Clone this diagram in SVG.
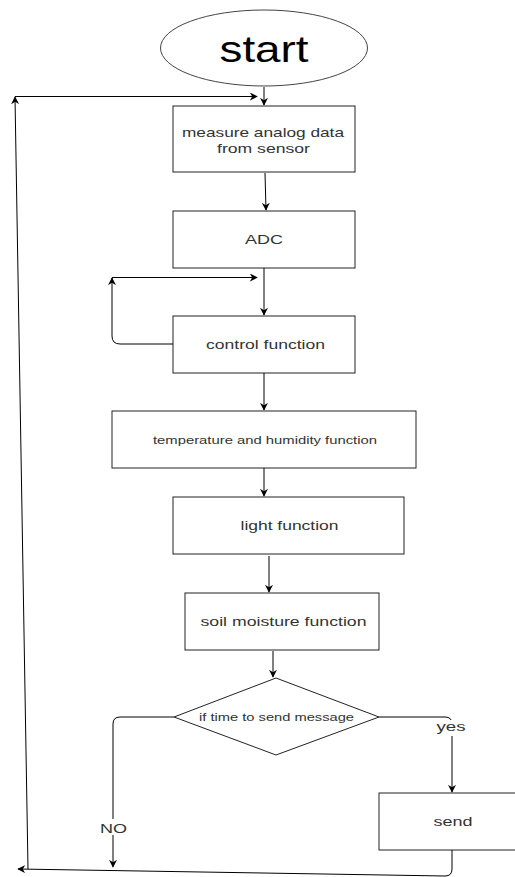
<svg xmlns="http://www.w3.org/2000/svg" width="515" height="877" viewBox="0 0 515 877">
<defs>
<marker id="ah" viewBox="0 0 10 10" refX="9" refY="5" markerWidth="8" markerHeight="8" markerUnits="userSpaceOnUse" orient="auto">
<path d="M0,0 L10,5 L0,10 L3,5 Z" fill="#000"/>
</marker>
<style>
.box{fill:#fff;stroke:#222;stroke-width:1}
.ln{fill:none;stroke:#000;stroke-width:1}
.t{font-family:"Liberation Sans",Arial,sans-serif;fill:#333;text-anchor:middle}
</style>
</defs>
<rect width="515" height="877" fill="#fff"/>
<g id="start">
<ellipse cx="264" cy="48" rx="103.5" ry="38" fill="#fff" stroke="#444" stroke-width="1"/>
<text class="t" x="264" y="62" font-size="36" style="fill:#000" textLength="89" lengthAdjust="spacingAndGlyphs">start</text>
</g>
<g id="measure">
<rect class="box" x="173" y="106" width="182" height="66"/>
<text class="t" x="263" y="136.5" font-size="13" textLength="162" lengthAdjust="spacingAndGlyphs">measure analog data</text>
<text class="t" x="263.5" y="153" font-size="13" textLength="93" lengthAdjust="spacingAndGlyphs">from sensor</text>
</g>
<g id="adc">
<rect class="box" x="173" y="211" width="182" height="57"/>
<text class="t" x="264" y="244" font-size="13" textLength="38" lengthAdjust="spacingAndGlyphs">ADC</text>
</g>
<g id="control">
<rect class="box" x="173" y="316" width="182" height="57"/>
<text class="t" x="265.5" y="349" font-size="13" textLength="119" lengthAdjust="spacingAndGlyphs">control function</text>
</g>
<g id="temp">
<rect class="box" x="112" y="411" width="304" height="57"/>
<text class="t" x="265" y="443.5" font-size="11.5" textLength="224" lengthAdjust="spacingAndGlyphs">temperature and humidity function</text>
</g>
<g id="light">
<rect class="box" x="173" y="497" width="231" height="57"/>
<text class="t" x="289.5" y="530" font-size="13" textLength="98" lengthAdjust="spacingAndGlyphs">light function</text>
</g>
<g id="soil">
<rect class="box" x="185" y="593" width="194" height="57"/>
<text class="t" x="283.5" y="626" font-size="13" textLength="166" lengthAdjust="spacingAndGlyphs">soil moisture function</text>
</g>
<g id="decision">
<polygon points="276,678 379,717 276,755 174,717" fill="#fff" stroke="#222" stroke-width="1"/>
<text class="t" x="276.5" y="721" font-size="11.5" textLength="155" lengthAdjust="spacingAndGlyphs">if time to send message</text>
</g>
<g id="send">
<rect class="box" x="379" y="793" width="140" height="57"/>
<text class="t" x="453" y="826" font-size="13" textLength="39" lengthAdjust="spacingAndGlyphs">send</text>
</g>
<g id="connectors">
<path class="ln" d="M264,87 L264,105" marker-end="url(#ah)"/>
<path class="ln" d="M265,173 L266,210" marker-end="url(#ah)"/>
<path class="ln" d="M264,268 L264,315" marker-end="url(#ah)"/>
<path class="ln" d="M173,344 L120,344 Q112,344 112,336 L112,278" marker-end="url(#ah)"/>
<path class="ln" d="M112,277.5 L257,277.5" marker-end="url(#ah)"/>
<path class="ln" d="M264,373 L264,410" marker-end="url(#ah)"/>
<path class="ln" d="M264,468 L264,496" marker-end="url(#ah)"/>
<path class="ln" d="M269,556 L269,592" marker-end="url(#ah)"/>
<path class="ln" d="M273,651 L273,677" marker-end="url(#ah)"/>
<path class="ln" d="M174,717 L120,717 Q113,717 113,724 L113,867" marker-end="url(#ah)"/>
<path class="ln" d="M379,717 L445,717 Q452,717 452,724 L452,792" marker-end="url(#ah)"/>
<path class="ln" d="M452,850 L452,869 Q452,876 445,876 L18,869" marker-end="url(#ah)"/>
<path class="ln" d="M28,869 L15,97" marker-end="url(#ah)"/>
<path class="ln" d="M15,96.5 L257,96.5" marker-end="url(#ah)"/>
<rect x="99" y="819" width="29" height="16" fill="#fff"/>
<text class="t" x="113.5" y="833" font-size="13" textLength="27" lengthAdjust="spacingAndGlyphs">NO</text>
<rect x="436" y="720" width="31" height="16" fill="#fff"/>
<text class="t" x="451" y="731" font-size="13" textLength="29" lengthAdjust="spacingAndGlyphs">yes</text>
</g>
</svg>
